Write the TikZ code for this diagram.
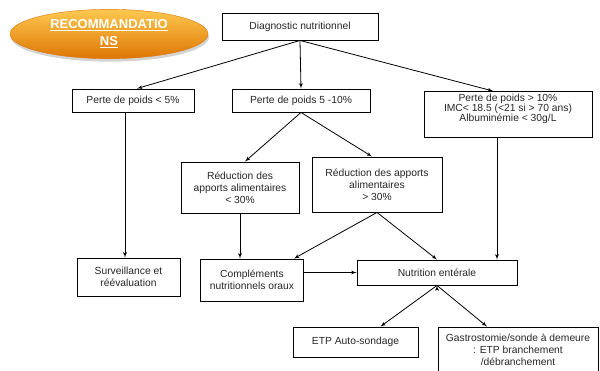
\documentclass[tikz,border=0pt]{standalone}
\usepackage{fontspec}
\setmainfont{Liberation Sans}
\usepackage{xcolor}
\usepackage{tikz}
\usetikzlibrary{positioning,arrows,shapes.geometric,shadows}
\definecolor{recotop}{RGB}{253,200,80}
\definecolor{recomid}{RGB}{246,162,22}
\definecolor{recobot}{RGB}{222,118,4}

\begin{document}
\begin{tikzpicture}[->,>=latex',x=1pt,y=-1pt,line width=0.8pt,
	box/.style={draw,rectangle,align=center,inner sep=2pt,line width=0.9pt,font=\fontsize{10.3}{12}\selectfont,text=black!85},
	reco/.style={ellipse,top color=recotop,middle color=recomid,bottom color=recobot,draw=recobot,line width=0.4pt,
		drop shadow={opacity=0.35,shadow xshift=1pt,shadow yshift=-3pt},
		align=center,text=white,font=\fontsize{13}{17}\selectfont\bfseries}]
			\useasboundingbox (0,0) rectangle (600,370);
			\node[reco,minimum width=198,minimum height=48] (rec) at (109,34) {\underline{RECOMMANDATIO}\\\underline{NS}};
			\node[box,minimum width=156,minimum height=27] (diag) at (300,26.5) {Diagnostic nutritionnel};
			\node[box,minimum width=122,minimum height=23] (pa) at (133,100.5) {Perte de poids < 5\%};
			\node[box,minimum width=138,minimum height=23] (pb) at (301,100.5) {Perte de poids 5 -10\%};
			\node[box,minimum width=168,minimum height=46,anchor=north] (pc) at (508,91)
				{\parbox[c][40pt][t]{160pt}{\centering\baselineskip=10pt Perte de poids > 10\%\\IMC< 18.5 (<21 si > 70 ans)\\Albuminémie < 30g/L}};
			\node[box,minimum width=118,minimum height=51] (ra) at (240,187.5) {Réduction des\\apports alimentaires\\< 30\%};
			\node[box,minimum width=130,minimum height=55] (rb) at (377,184.5) {Réduction des apports\\alimentaires\\> 30\%};
			\node[box,minimum width=103,minimum height=38] (surv) at (128.5,277) {Surveillance et\\réévaluation};
			\node[box,minimum width=103,minimum height=42] (comp) at (252,280) {Compléments\\nutritionnels oraux};
			\node[box,minimum width=160,minimum height=25] (nut) at (437,272.5) {Nutrition entérale};
			\node[box,minimum width=125,minimum height=30] (etp) at (355.5,342) {ETP Auto-sondage};
			\node[box,minimum width=160,minimum height=46] (gas) at (518,350) {Gastrostomie/sonde à demeure\\: ETP branchement\\/débranchement};

			\draw 	(diag.south) edge ([xshift=4pt]pa.north)
					(diag.south) edge (pb.north)
					(diag.south) edge ([xshift=-15pt]pc.north)
					([xshift=-3.5pt]surv.north |- pa.south) edge ([xshift=-3.5pt]surv.north)
					(pb.south) edge ([xshift=5pt]ra.north)
					(pb.south) edge ([xshift=-5pt]rb.north)
					(ra.south) edge (ra.south |- comp.north)
					(rb.south) edge ([xshift=-10pt]comp.north east)
					(rb.south) edge (nut.north)
					([xshift=-11pt]pc.south) edge ([xshift=-11pt]pc.south |- nut.north)
					(comp.east |- nut.west) edge (nut.west)
					(nut.south) edge ([xshift=25pt]etp.north)
					(nut.south) edge ([xshift=-31pt]gas.north);
\end{tikzpicture}
\end{document}
